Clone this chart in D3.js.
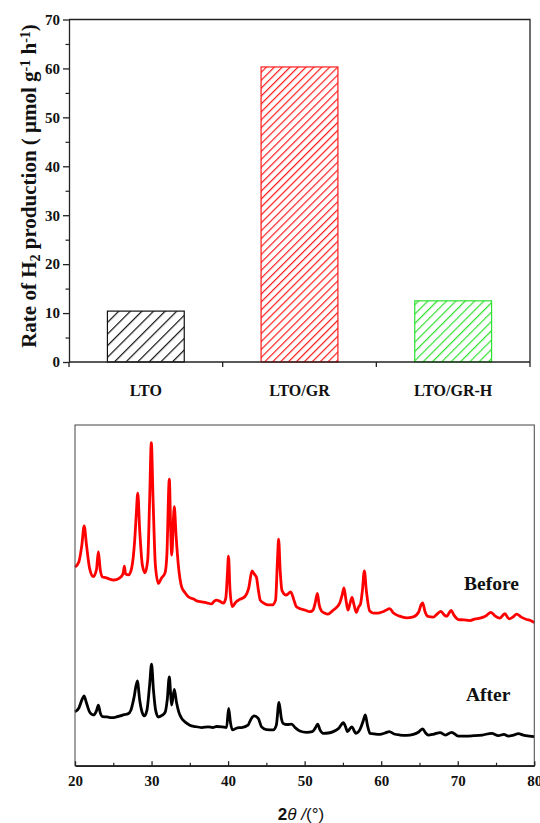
<!DOCTYPE html>
<html>
<head>
<meta charset="utf-8">
<script src="https://cdn.jsdelivr.net/npm/d3@7"></script>
<style>
  html, body { margin: 0; padding: 0; background: #fff; }
  svg { display: block; }
  .serif { font-family: "Liberation Serif", "Times New Roman", serif; font-weight: bold; }
</style>
</head>
<body>
<svg id="fig" width="540" height="823"></svg>
<script>
// ---- Photocatalytic H2 evolution rates (μmol g^-1 h^-1) ----
const categories = ["LTO", "LTO/GR", "LTO/GR-H"];
const rates = [10.4, 60.3, 12.5];
const rateTicks = [0, 10, 20, 30, 40, 50, 60, 70];
const rateMinorTicks = [5, 15, 25, 35, 45, 55, 65];

// ---- XRD patterns: [2θ (°), intensity (a.u.)] ----
const xrdBefore = [
  [20.0,58.3],[20.5,59.8],[20.9,64.8],[21.2,70.4],[21.5,64.8],[21.9,58.0],[22.4,55.5],[22.8,57.5],
  [23.05,62.8],[23.3,57.5],[23.6,55.4],[24.0,55.2],[24.5,54.8],[25.0,54.5],[25.5,54.7],[26.0,55.4],
  [26.3,56.6],[26.45,58.6],[26.6,56.3],[27.0,56.0],[27.4,58.0],[27.8,66.2],[28.0,73.6],[28.2,80.0],
  [28.45,69.2],[28.8,58.9],[29.15,56.6],[29.5,60.4],[29.75,78.0],[29.97,94.8],[30.2,78.0],[30.5,58.9],
  [30.9,53.5],[31.3,55.1],[31.76,56.6],[32.0,61.8],[32.32,84.1],[32.5,69.2],[32.63,61.8],[32.97,76.0],
  [33.2,67.7],[33.5,58.9],[33.93,52.5],[34.4,50.7],[34.8,49.6],[35.5,48.9],[36.0,48.3],[36.55,48.1],
  [37.2,47.8],[37.85,47.5],[38.2,48.3],[38.5,48.6],[38.9,48.3],[39.37,47.7],[39.7,49.2],[39.9,56.0],
  [40.05,61.5],[40.25,51.6],[40.55,46.7],[41.0,48.0],[41.5,48.8],[42.17,49.6],[42.7,52.2],[43.12,57.2],
  [43.4,56.3],[43.7,55.3],[43.95,51.6],[44.2,48.6],[44.6,47.8],[45.2,47.2],[45.8,47.2],[46.2,48.6],
  [46.45,60.4],[46.6,66.5],[46.8,57.4],[47.04,51.4],[47.6,50.1],[48.18,51.0],[48.6,48.6],[48.9,46.7],
  [49.5,46.0],[50.0,45.7],[50.7,45.2],[51.1,45.7],[51.4,48.0],[51.66,50.6],[51.9,47.2],[52.2,45.4],
  [52.6,44.8],[53.05,44.5],[53.6,45.4],[54.14,46.4],[54.6,47.8],[54.9,50.1],[55.14,52.2],[55.4,48.6],
  [55.66,45.7],[55.95,47.8],[56.19,49.4],[56.45,47.2],[56.75,45.0],[57.05,46.6],[57.3,47.5],[57.55,51.6],
  [57.8,57.2],[58.05,51.6],[58.5,45.4],[59.0,44.8],[59.6,44.8],[60.1,45.1],[60.6,45.6],[61.1,46.1],
  [61.6,44.8],[62.4,43.9],[63.3,43.4],[64.2,43.7],[64.9,45.1],[65.2,47.2],[65.42,47.8],[65.7,45.4],
  [66.1,43.8],[66.8,43.6],[67.3,44.5],[67.8,45.3],[68.3,44.1],[68.55,43.9],[69.15,45.6],[69.5,44.2],
  [70.1,42.9],[70.8,42.8],[71.6,42.6],[72.3,43.1],[72.9,43.3],[73.6,43.9],[74.35,45.0],[74.9,43.9],
  [75.5,43.3],[76.15,44.6],[76.7,43.1],[77.2,43.6],[77.7,44.5],[78.3,43.6],[79.0,42.9],[79.5,42.6],
  [80.0,42.0]
];
const xrdAfter = [
  [20.0,15.8],[20.5,16.9],[20.9,19.3],[21.18,20.5],[21.5,18.4],[21.9,15.8],[22.4,14.9],[22.8,16.1],
  [23.05,17.8],[23.3,15.5],[23.6,14.4],[24.2,14.3],[24.8,14.1],[25.4,14.3],[25.9,14.6],[26.44,15.0],
  [26.9,15.2],[27.3,16.3],[27.7,19.9],[28.14,24.9],[28.45,19.3],[28.75,15.8],[29.05,14.6],[29.4,16.3],
  [29.75,23.7],[30.0,29.8],[30.25,22.2],[30.55,16.1],[30.9,14.3],[31.3,14.7],[31.76,15.6],[32.05,19.3],
  [32.32,26.1],[32.5,20.8],[32.63,17.8],[32.97,22.4],[33.25,18.7],[33.55,15.8],[33.93,13.9],[34.4,12.8],
  [35.0,11.9],[35.7,11.5],[36.55,11.2],[37.4,11.4],[38.0,11.2],[38.5,11.5],[39.2,11.4],[39.8,11.2],
  [40.07,16.8],[40.3,12.8],[40.55,10.5],[41.2,11.1],[41.76,11.2],[42.6,11.9],[43.0,13.7],[43.4,14.6],
  [43.94,13.9],[44.37,11.4],[45.0,10.6],[45.9,10.5],[46.3,11.9],[46.65,18.6],[46.95,14.0],[47.2,12.4],
  [47.7,12.1],[48.29,12.2],[48.8,11.1],[49.37,10.2],[50.25,9.8],[51.0,10.0],[51.4,11.1],[51.7,12.2],
  [52.0,10.5],[52.44,9.5],[53.1,9.6],[53.74,10.0],[54.5,11.1],[55.05,12.6],[55.35,11.4],[55.58,10.0],
  [56.15,11.4],[56.7,9.5],[57.2,10.5],[57.6,12.8],[57.93,14.9],[58.2,11.9],[58.54,9.5],[59.2,9.3],
  [59.84,9.2],[60.5,9.6],[61.06,10.0],[61.7,9.3],[62.46,9.0],[63.3,8.9],[64.2,9.2],[64.9,9.9],
  [65.42,10.8],[65.8,9.6],[66.15,9.0],[66.9,9.3],[67.7,9.7],[68.4,9.0],[69.2,9.8],[70.07,8.7],
  [71.0,8.7],[72.03,8.8],[73.2,9.0],[74.43,9.5],[75.3,8.8],[76.04,9.2],[76.6,8.7],[77.3,9.0],
  [77.9,9.4],[78.7,8.9],[79.4,8.7],[80.0,8.5]
];
const angleTicks = [20, 30, 40, 50, 60, 70, 80];
const angleMinorTicks = [25, 35, 45, 55, 65, 75];

// ---- Styling ----
const barStyles = [
  { color: "#111111", gap: 8.2 },
  { color: "#ff1a1a", gap: 5.6 },
  { color: "#2ee02e", gap: 6.6 }
];
const axisColor = "#222";

const svg = d3.select("#fig");
const defs = svg.append("defs");

// =============== Top panel: bar chart ===============
const barBox = { left: 69, right: 530, top: 19.5, bottom: 362 };

const x = d3.scaleBand()
  .domain(categories)
  .range([barBox.left, barBox.right])
  .paddingInner(0.5)
  .paddingOuter(0.25);

const y = d3.scaleLinear()
  .domain([0, 70])
  .range([barBox.bottom, barBox.top]);

// diagonal hatch fills
barStyles.forEach((s, i) => {
  const p = defs.append("pattern")
    .attr("id", "hatch" + i)
    .attr("patternUnits", "userSpaceOnUse")
    .attr("width", s.gap)
    .attr("height", s.gap)
    .attr("patternTransform", "rotate(45)");
  p.append("line")
    .attr("x1", 0).attr("y1", 0)
    .attr("x2", 0).attr("y2", s.gap)
    .attr("stroke", s.color)
    .attr("stroke-width", 2.4);
});

svg.append("g")
  .selectAll("rect")
  .data(categories)
  .join("rect")
  .attr("x", d => x(d))
  .attr("y", (d, i) => y(rates[i]))
  .attr("width", x.bandwidth())
  .attr("height", (d, i) => y(0) - y(rates[i]))
  .attr("fill", (d, i) => `url(#hatch${i})`)
  .attr("stroke", (d, i) => barStyles[i].color)
  .attr("stroke-width", 1.2);

// frame: top and right edges
svg.append("path")
  .attr("d", `M${barBox.left},${barBox.top}H${barBox.right}V${barBox.bottom}`)
  .attr("fill", "none")
  .attr("stroke", axisColor)
  .attr("stroke-width", 1.3);

// left axis with major and minor ticks
const yAxis = svg.append("g")
  .attr("transform", `translate(${barBox.left},0)`)
  .call(d3.axisLeft(y).tickValues(rateTicks).tickSize(6).tickSizeOuter(0).tickPadding(3));
yAxis.select(".domain").attr("stroke", axisColor).attr("stroke-width", 1.3);
yAxis.selectAll(".tick line").attr("stroke", axisColor).attr("stroke-width", 1.3);
yAxis.selectAll(".tick text")
  .attr("class", "serif")
  .attr("font-size", 15)
  .attr("fill", "#111");

const yMinor = svg.append("g")
  .attr("transform", `translate(${barBox.left},0)`)
  .call(d3.axisLeft(y).tickValues(rateMinorTicks).tickSize(3.5).tickFormat(""));
yMinor.select(".domain").remove();
yMinor.selectAll(".tick line").attr("stroke", axisColor).attr("stroke-width", 1.2);

// bottom category axis: ticks sit on the band boundaries
const bounds = [barBox.left];
categories.forEach(c => bounds.push(x(c) + x.bandwidth() + (x.step() - x.bandwidth()) / 2));
bounds[bounds.length - 1] = barBox.right;

svg.append("line")
  .attr("x1", barBox.left).attr("x2", barBox.right)
  .attr("y1", barBox.bottom).attr("y2", barBox.bottom)
  .attr("stroke", axisColor).attr("stroke-width", 1.3);
svg.append("g")
  .selectAll("line")
  .data(bounds)
  .join("line")
  .attr("x1", d => d).attr("x2", d => d)
  .attr("y1", barBox.bottom).attr("y2", barBox.bottom + 5)
  .attr("stroke", axisColor).attr("stroke-width", 1.3);

svg.append("g")
  .selectAll("text")
  .data(categories)
  .join("text")
  .attr("class", "serif")
  .attr("x", d => x(d) + x.bandwidth() / 2)
  .attr("y", 395.5)
  .attr("text-anchor", "middle")
  .attr("font-size", 16)
  .attr("fill", "#111")
  .text(d => d);

// y-axis title
const yTitle = svg.append("text")
  .attr("class", "serif")
  .attr("transform", "translate(36,186) rotate(-90)")
  .attr("text-anchor", "middle")
  .attr("font-size", 21)
  .attr("fill", "#111");
yTitle.append("tspan").text("Rate of H");
yTitle.append("tspan").attr("baseline-shift", "-25%").attr("font-size", 14).text("2");
yTitle.append("tspan").text(" production ( μmol g");
yTitle.append("tspan").attr("baseline-shift", "40%").attr("font-size", 14).text("-1");
yTitle.append("tspan").text(" h");
yTitle.append("tspan").attr("baseline-shift", "40%").attr("font-size", 14).text("-1");
yTitle.append("tspan").text(")");

// =============== Bottom panel: XRD patterns ===============
const xrdBox = { left: 75, right: 534.3, top: 425, bottom: 765.7 };

const x2 = d3.scaleLinear().domain([20, 80]).range([xrdBox.left, xrdBox.right]);
const y2 = d3.scaleLinear().domain([0, 100]).range([xrdBox.bottom, xrdBox.top]);

const line = d3.line()
  .x(d => x2(d[0]))
  .y(d => y2(d[1]))
  .curve(d3.curveMonotoneX);

svg.append("path")
  .datum(xrdBefore)
  .attr("d", line)
  .attr("fill", "none")
  .attr("stroke", "#ff0000")
  .attr("stroke-width", 2.8)
  .attr("stroke-linejoin", "round");

svg.append("path")
  .datum(xrdAfter)
  .attr("d", line)
  .attr("fill", "none")
  .attr("stroke", "#000000")
  .attr("stroke-width", 2.8)
  .attr("stroke-linejoin", "round");

// frame
svg.append("rect")
  .attr("x", xrdBox.left).attr("y", xrdBox.top)
  .attr("width", xrdBox.right - xrdBox.left)
  .attr("height", xrdBox.bottom - xrdBox.top)
  .attr("fill", "none")
  .attr("stroke", "#555")
  .attr("stroke-width", 1.1);

// bottom axis with inward ticks
const xAxis2 = svg.append("g")
  .attr("transform", `translate(0,${xrdBox.bottom})`)
  .call(d3.axisBottom(x2).tickValues(angleTicks).tickSize(-4.5).tickSizeOuter(0).tickPadding(10));
xAxis2.select(".domain").attr("stroke", axisColor).attr("stroke-width", 1.8);
xAxis2.selectAll(".tick line").attr("stroke", axisColor).attr("stroke-width", 1.3);
xAxis2.selectAll(".tick text")
  .attr("class", "serif")
  .attr("font-size", 15)
  .attr("fill", "#111");

const xMinor2 = svg.append("g")
  .attr("transform", `translate(0,${xrdBox.bottom})`)
  .call(d3.axisBottom(x2).tickValues(angleMinorTicks).tickSize(-3).tickFormat(""));
xMinor2.select(".domain").remove();
xMinor2.selectAll(".tick line").attr("stroke", axisColor).attr("stroke-width", 1.2);

// x-axis title: 2θ/(°)
const xTitle = svg.append("text")
  .attr("x", 301)
  .attr("y", 820)
  .attr("text-anchor", "middle")
  .attr("font-family", "'Liberation Sans', Arial, sans-serif")
  .attr("font-size", 17)
  .attr("fill", "#111");
xTitle.append("tspan").attr("font-weight", "bold").text("2");
xTitle.append("tspan").attr("font-style", "italic").text("θ");
xTitle.append("tspan").attr("font-style", "italic").text(" /");
xTitle.append("tspan").text("(°)");

// curve labels
svg.append("text")
  .attr("class", "serif")
  .attr("x", 464).attr("y", 590)
  .attr("font-size", 19.5)
  .attr("fill", "#111")
  .text("Before");
svg.append("text")
  .attr("class", "serif")
  .attr("x", 466).attr("y", 700.5)
  .attr("font-size", 19.5)
  .attr("fill", "#111")
  .text("After");
</script>
</body>
</html>
